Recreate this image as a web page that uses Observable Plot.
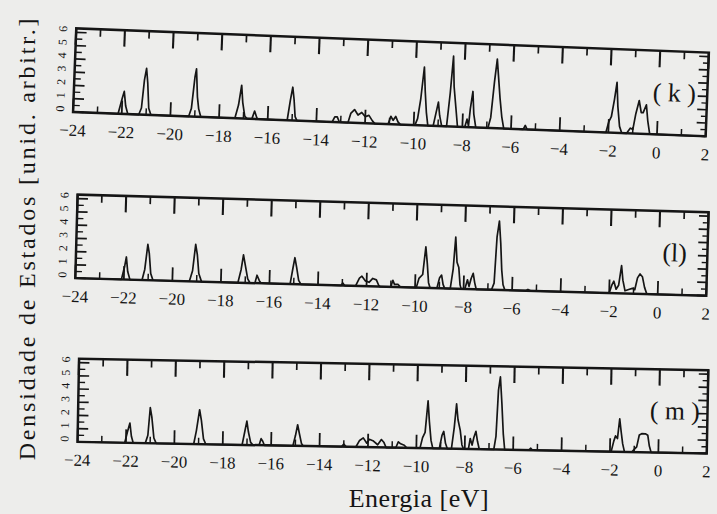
<!DOCTYPE html>
<html><head><meta charset="utf-8">
<script src="https://cdn.jsdelivr.net/npm/d3@7"></script>
<script src="https://cdn.jsdelivr.net/npm/@observablehq/plot@0.6"></script>
<style>
body{margin:0;background:#ededeb;width:717px;height:514px;overflow:hidden;position:relative;font-family:"Liberation Serif",serif;color:#151515}
.panel{position:absolute}
.ytitle{position:absolute;left:27px;top:238px;transform:translate(-50%,-50%) rotate(-90deg);white-space:nowrap;font-size:24px;letter-spacing:2.8px}
.xtitle{position:absolute;left:419px;top:499px;transform:translate(-50%,-50%);white-space:nowrap;font-size:26px;letter-spacing:0.5px}
g[aria-label="panel-label"] text{letter-spacing:3px}
</style></head><body>
<div class="ytitle">Densidade de Estados [unid. arbitr.]</div>
<div class="xtitle">Energia [eV]</div>
<div id="pk" class="panel"></div>
<div id="pl" class="panel"></div>
<div id="pm" class="panel"></div>
<script>
const xTickLabels = [-24,-22,-20,-18,-16,-14,-12,-10,-8,-6,-4,-2,0,2];
const xMinorTicks = [-23,-21,-19,-17,-15,-13,-11,-9,-7,-5,-3,-1,1];
const yTickLabels = [0,1,2,3,4,5,6];
const yMinorTicks = [0.5,1.5,2.5,3.5,4.5,5.5];
const panelNames = ["( k )","(l)","( m )"];

const dosK = [
[-24,0],[-22.15,0],[-22.0,1.2],[-21.93,1.7],[-21.85,0.6],[-21.75,0],
[-21.3,0],[-21.2,0.5],[-21.12,2.6],[-21.05,3.5],[-20.98,2.4],[-20.9,0.5],[-20.8,0],
[-19.25,0],[-19.15,0.6],[-19.05,3.0],[-19.0,3.6],[-18.92,1.5],[-18.85,0.6],[-18.75,0],
[-17.35,0],[-17.22,1.0],[-17.12,2.5],[-17.05,1.2],[-16.95,0.2],[-16.85,0],[-16.65,0],[-16.55,0.6],[-16.45,0.1],[-16.4,0],
[-15.2,0],[-15.1,1.5],[-15.02,2.5],[-14.95,1.6],[-14.88,0.3],[-14.8,0],
[-13.35,0],[-13.25,0.4],[-13.15,0.4],[-13.05,0],
[-12.7,0],[-12.6,0.7],[-12.45,1.0],[-12.3,0.6],[-12.15,0.8],[-12.0,0.5],[-11.85,0.6],[-11.7,0.2],[-11.6,0],
[-11.05,0],[-10.95,0.6],[-10.85,0.3],[-10.75,0.6],[-10.65,0.2],[-10.55,0],
[-9.95,0],[-9.85,0.5],[-9.75,2.0],[-9.65,4.4],[-9.58,2.6],[-9.5,1.0],[-9.42,0],
[-9.2,0],[-9.1,1.0],[-9.02,1.8],[-8.95,0.8],[-8.85,0],
[-8.65,0],[-8.55,2.5],[-8.47,5.3],[-8.4,3.0],[-8.3,1.5],[-8.2,0],
[-7.9,0],[-7.82,0.6],[-7.75,0.1],[-7.7,1.4],[-7.62,2.7],[-7.55,1.0],[-7.45,0],
[-6.95,0],[-6.85,0.8],[-6.75,3.5],[-6.67,5.2],[-6.6,4.0],[-6.5,2.3],[-6.4,0.9],[-6.3,0],
[-5.5,0],[-5.42,0.3],[-5.34,0],
[-2.1,0],[-2.0,0.8],[-1.9,1.2],[-1.8,2.5],[-1.72,3.8],[-1.65,2.0],[-1.55,0.5],[-1.45,0],
[-1.25,0],[-1.1,0.4],[-1.0,0.3],[-0.9,1.5],[-0.78,2.5],[-0.68,1.6],[-0.6,1.6],[-0.48,2.2],[-0.4,1.0],[-0.3,0],
[2,0]];

const dosL = [
[-24,0],[-22.1,0],[-21.98,1.0],[-21.92,1.7],[-21.85,0.6],[-21.75,0],
[-21.25,0],[-21.15,0.8],[-21.05,2.7],[-20.98,2.0],[-20.9,0.5],[-20.8,0],
[-19.3,0],[-19.18,0.8],[-19.08,2.8],[-19.0,2.0],[-18.92,0.6],[-18.8,0],
[-17.3,0],[-17.18,1.0],[-17.1,2.1],[-17.0,1.2],[-16.9,0.3],[-16.8,0],[-16.6,0],[-16.52,0.6],[-16.42,0.2],[-16.35,0],
[-15.15,0],[-15.05,1.2],[-14.98,2.0],[-14.9,1.3],[-14.8,0.3],[-14.7,0],
[-13.05,0],[-12.98,0.2],[-12.9,0],
[-12.45,0],[-12.3,0.6],[-12.2,0.75],[-12.05,0.4],[-11.9,0.3],[-11.75,0.6],[-11.6,0.5],[-11.5,0.1],[-11.45,0],
[-11.0,0],[-10.92,0.5],[-10.85,0.2],[-10.7,0.2],[-10.6,0],
[-9.95,0],[-9.85,0.7],[-9.7,1.0],[-9.6,3.1],[-9.52,1.8],[-9.45,0.4],[-9.38,0],
[-9.1,0],[-9.0,0.8],[-8.92,1.0],[-8.85,0.3],[-8.78,0],
[-8.55,0],[-8.45,1.5],[-8.38,3.9],[-8.3,2.0],[-8.22,1.6],[-8.15,0.3],[-8.1,0],
[-7.95,0],[-7.85,0.7],[-7.78,0.2],[-7.7,0.8],[-7.62,1.2],[-7.55,0.5],[-7.48,0],
[-6.85,0],[-6.75,0.5],[-6.68,4.0],[-6.6,5.2],[-6.52,3.5],[-6.45,1.5],[-6.38,0.4],[-6.3,0],
[-5.45,0],[-5.35,0.1],[-5.25,0],
[-2.0,0],[-1.9,0.6],[-1.82,0.9],[-1.72,0.3],[-1.62,0.6],[-1.52,2.1],[-1.45,1.0],[-1.35,0.2],[-1.2,0.3],[-1.05,0.4],[-0.95,0.3],[-0.85,1.2],[-0.75,1.5],[-0.65,1.3],[-0.55,0.5],[-0.45,0],
[2,0]];

const dosM = [
[-24,0],[-22.05,0],[-21.95,0.8],[-21.85,1.5],[-21.78,0.5],[-21.7,0],
[-21.2,0],[-21.1,0.6],[-21.02,2.7],[-20.95,2.0],[-20.85,0.4],[-20.75,0],
[-19.2,0],[-19.1,1.0],[-18.98,2.6],[-18.9,1.8],[-18.8,0.4],[-18.7,0],
[-17.2,0],[-17.1,1.0],[-17.02,1.8],[-16.95,1.0],[-16.85,0.2],[-16.75,0],[-16.5,0],[-16.42,0.5],[-16.35,0.3],[-16.28,0],
[-15.1,0],[-15.0,0.8],[-14.92,1.6],[-14.85,1.0],[-14.75,0.2],[-14.68,0],
[-13.1,0],[-13.0,0.2],[-12.9,0],
[-12.5,0],[-12.35,0.5],[-12.2,0.7],[-12.05,0.3],[-11.95,0.6],[-11.8,0.5],[-11.6,0.2],[-11.45,0.6],[-11.35,0.4],[-11.25,0],
[-10.85,0],[-10.75,0.45],[-10.65,0.3],[-10.5,0.2],[-10.4,0],
[-9.85,0],[-9.75,0.8],[-9.65,1.2],[-9.55,3.6],[-9.48,2.0],[-9.4,0.6],[-9.32,0],
[-9.05,0],[-8.95,1.0],[-8.88,1.3],[-8.8,0.4],[-8.72,0],
[-8.55,0],[-8.45,1.6],[-8.37,3.4],[-8.3,2.2],[-8.2,1.4],[-8.12,0.3],[-8.05,0],
[-7.85,0],[-7.78,0.8],[-7.7,0.3],[-7.63,0.9],[-7.55,1.35],[-7.48,0.6],[-7.4,0],
[-6.8,0],[-6.72,1.0],[-6.65,4.5],[-6.58,5.5],[-6.5,3.5],[-6.42,1.2],[-6.35,0],
[-5.35,0],[-5.28,0.15],[-5.2,0],
[-1.95,0],[-1.85,0.8],[-1.78,1.2],[-1.7,1.0],[-1.62,2.5],[-1.55,1.5],[-1.48,0.6],[-1.4,0],
[-1.1,0],[-1.0,0.2],[-0.9,0.4],[-0.8,1.3],[-0.7,1.4],[-0.55,1.4],[-0.45,1.3],[-0.38,0.5],[-0.3,0],
[2,0]];

const INK = "#151515";
const FW = 635, FH = 84, ML = 30, MR = 10, MT = 5, MB = 28;

function panel(data, label) {
  return Plot.plot({
    width: FW + ML + MR, height: FH + MT + MB,
    marginLeft: ML, marginRight: MR, marginTop: MT, marginBottom: MB,
    x: {domain: [-24, 2], axis: null},
    y: {domain: [0, 6.3], axis: null},
    style: {background: "transparent", color: INK, fontFamily: "Liberation Serif, serif", overflow: "visible"},
    marks: [
      Plot.lineY(data, {x: d => d[0], y: d => d[1], stroke: INK, strokeWidth: 1.7, curve: "linear"}),
      // top ticks (inward)
      Plot.tickX(xTickLabels, {x: d => d, insetBottom: FH - 17, stroke: INK, strokeWidth: 2.1}),
      Plot.tickX(xMinorTicks, {x: d => d, insetBottom: FH - 8, stroke: INK, strokeWidth: 1.7}),
      // bottom ticks (inward)
      Plot.tickX(xTickLabels, {x: d => d, insetTop: FH - 13, stroke: INK, strokeWidth: 1.8}),
      Plot.tickX(xMinorTicks, {x: d => d, insetTop: FH - 6, stroke: INK, strokeWidth: 1.5}),
      // left ticks
      Plot.tickY(yTickLabels, {y: d => d, insetRight: FW - 11, stroke: INK, strokeWidth: 1.7}),
      Plot.tickY(yMinorTicks, {y: d => d, insetRight: FW - 7, stroke: INK, strokeWidth: 1.4}),
      // right ticks
      Plot.tickY(yTickLabels, {y: d => d, insetLeft: FW - 9, stroke: INK, strokeWidth: 1.7}),
      Plot.tickY(yMinorTicks, {y: d => d, insetLeft: FW - 5, stroke: INK, strokeWidth: 1.4}),
      Plot.frame({stroke: INK, strokeWidth: 2.5}),
      Plot.axisX({ticks: xTickLabels, tickSize: 0, tickPadding: 12, fontSize: 17, label: null, anchor: "bottom"}),
      Plot.text(yTickLabels, {y: d => d, frameAnchor: "left", dx: -13, text: d => String(d), rotate: -90, fontSize: 12, fill: INK}),
      Plot.text([label], {frameAnchor: "right", dx: -33, text: d => d, fontSize: 26, fill: INK, textAnchor: "middle", ariaLabel: "panel-label"})
    ]
  });
}

const specs = [
  {id: "pk", data: dosK, label: panelNames[0], cx: 391.5, cy: 82, rot: 2.2},
  {id: "pl", data: dosL, label: panelNames[1], cx: 393.5, cy: 245, rot: 1.6},
  {id: "pm", data: dosM, label: panelNames[2], cx: 395.5, cy: 405.5, rot: 1.05}
];
for (const s of specs) {
  const el = document.getElementById(s.id);
  const ox = ML + FW / 2, oy = MT + FH / 2;
  el.style.left = (s.cx - ox) + "px";
  el.style.top = (s.cy - oy) + "px";
  el.style.transformOrigin = ox + "px " + oy + "px";
  el.style.transform = "rotate(" + s.rot + "deg)";
  el.appendChild(panel(s.data, s.label));
}
</script>
</body></html>
